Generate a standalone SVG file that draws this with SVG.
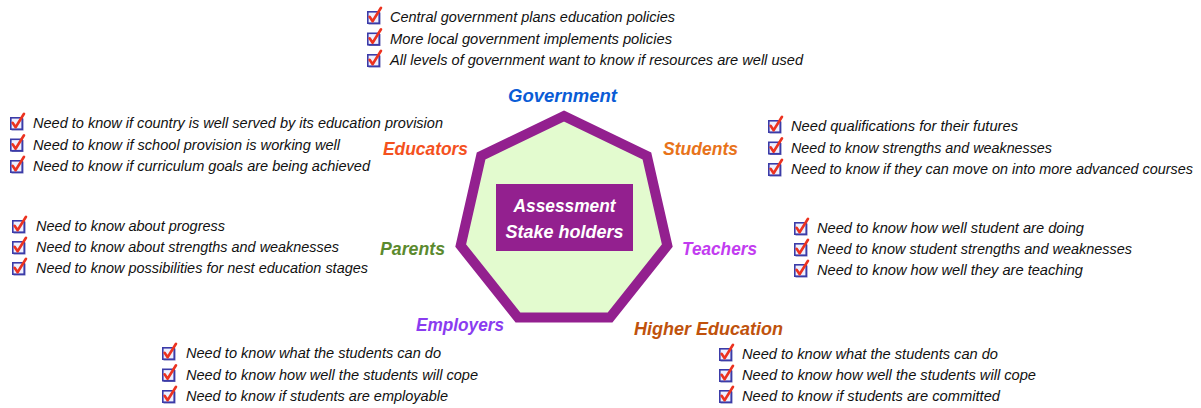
<svg xmlns="http://www.w3.org/2000/svg" xmlns:xlink="http://www.w3.org/1999/xlink" width="1201" height="408" viewBox="0 0 1201 408">
<style>
.it{font-family:"Liberation Sans",Arial,sans-serif;font-style:italic;font-size:14.5px;fill:#111}
.lb{font-family:"Liberation Sans",Arial,sans-serif;font-style:italic;font-weight:bold;font-size:19px}
.ct{font-family:"Liberation Sans",Arial,sans-serif;font-style:italic;font-weight:bold;font-size:19px;fill:#fff;text-anchor:middle}
</style>
<defs>
<g id="ck">
<rect x="1.5" y="1.5" width="12" height="12" fill="#6a6ab8"/>
<rect x="0.8" y="0.8" width="11.4" height="11.4" fill="#eef0ff" stroke="#3b3ba8" stroke-width="1.6"/>
<path d="M2.6,5.8 L5.6,10.2 L14,-3.2" fill="none" stroke="#ec3320" stroke-width="2.6" stroke-linecap="round" stroke-linejoin="round"/>
</g>
</defs>
<rect width="1201" height="408" fill="#fff"/>

<g id="hub">
<polygon points="564,116 646.9,155.9 667.3,245.6 610,317.5 518,317.5 460.7,245.6 481.1,155.9" fill="#e3fbcf" stroke="#93208f" stroke-width="10" stroke-linejoin="miter"/>
<rect x="496" y="184" width="137" height="67" fill="#93208f"/>
<text class="ct" x="564.5" y="212" textLength="102" lengthAdjust="spacingAndGlyphs">Assessment</text>
<text class="ct" x="564.5" y="238" textLength="118" lengthAdjust="spacingAndGlyphs">Stake holders</text>
</g>

<g id="government">
<text class="lb" x="508" y="102" fill="#0a5cd6" textLength="109" lengthAdjust="spacingAndGlyphs">Government</text>
<use xlink:href="#ck" x="367" y="11"/>
<text class="it" x="390" y="22" textLength="285" lengthAdjust="spacingAndGlyphs">Central government plans education policies</text>
<use xlink:href="#ck" x="367" y="32.5"/>
<text class="it" x="390" y="43.5" textLength="282" lengthAdjust="spacingAndGlyphs">More local government implements policies</text>
<use xlink:href="#ck" x="367" y="54"/>
<text class="it" x="390" y="65" textLength="413" lengthAdjust="spacingAndGlyphs">All levels of government want to know if resources are well used</text>
</g>

<g id="educators">
<text class="lb" x="383" y="155" fill="#f4511e" textLength="85" lengthAdjust="spacingAndGlyphs">Educators</text>
<use xlink:href="#ck" x="10" y="117"/>
<text class="it" x="33" y="128" textLength="410" lengthAdjust="spacingAndGlyphs">Need to know if country is well served by its education provision</text>
<use xlink:href="#ck" x="10" y="138.5"/>
<text class="it" x="33" y="149.5" textLength="307" lengthAdjust="spacingAndGlyphs">Need to know if school provision is working well</text>
<use xlink:href="#ck" x="10" y="160"/>
<text class="it" x="33" y="171" textLength="337" lengthAdjust="spacingAndGlyphs">Need to know if curriculum goals are being achieved</text>
</g>

<g id="students">
<text class="lb" x="663" y="155" fill="#e8731a" textLength="75" lengthAdjust="spacingAndGlyphs">Students</text>
<use xlink:href="#ck" x="768" y="120"/>
<text class="it" x="791" y="131" textLength="227" lengthAdjust="spacingAndGlyphs">Need qualifications for their futures</text>
<use xlink:href="#ck" x="768" y="141.5"/>
<text class="it" x="791" y="152.5" textLength="261" lengthAdjust="spacingAndGlyphs">Need to know strengths and weaknesses</text>
<use xlink:href="#ck" x="768" y="163"/>
<text class="it" x="791" y="174" textLength="402" lengthAdjust="spacingAndGlyphs">Need to know if they can move on into more advanced courses</text>
</g>

<g id="parents">
<text class="lb" x="380" y="255" fill="#5b8a2e" textLength="65" lengthAdjust="spacingAndGlyphs">Parents</text>
<use xlink:href="#ck" x="12" y="220"/>
<text class="it" x="36" y="231" textLength="189" lengthAdjust="spacingAndGlyphs">Need to know about progress</text>
<use xlink:href="#ck" x="12" y="241"/>
<text class="it" x="36" y="252" textLength="303" lengthAdjust="spacingAndGlyphs">Need to know about strengths and weaknesses</text>
<use xlink:href="#ck" x="12" y="262"/>
<text class="it" x="36" y="273" textLength="332" lengthAdjust="spacingAndGlyphs">Need to know possibilities for nest education stages</text>
</g>

<g id="teachers">
<text class="lb" x="682" y="255" fill="#c23cf0" textLength="75" lengthAdjust="spacingAndGlyphs">Teachers</text>
<use xlink:href="#ck" x="794" y="222"/>
<text class="it" x="817" y="233" textLength="267" lengthAdjust="spacingAndGlyphs">Need to know how well student are doing</text>
<use xlink:href="#ck" x="794" y="243"/>
<text class="it" x="817" y="254" textLength="315" lengthAdjust="spacingAndGlyphs">Need to know student strengths and weaknesses</text>
<use xlink:href="#ck" x="794" y="264"/>
<text class="it" x="817" y="275" textLength="266" lengthAdjust="spacingAndGlyphs">Need to know how well they are teaching</text>
</g>

<g id="employers">
<text class="lb" x="416" y="331" fill="#8a3cf0" textLength="88" lengthAdjust="spacingAndGlyphs">Employers</text>
<use xlink:href="#ck" x="162" y="347"/>
<text class="it" x="186" y="358" textLength="255" lengthAdjust="spacingAndGlyphs">Need to know what the students can do</text>
<use xlink:href="#ck" x="162" y="368.5"/>
<text class="it" x="186" y="379.5" textLength="292" lengthAdjust="spacingAndGlyphs">Need to know how well the students will cope</text>
<use xlink:href="#ck" x="162" y="390"/>
<text class="it" x="186" y="401" textLength="262" lengthAdjust="spacingAndGlyphs">Need to know if students are employable</text>
</g>

<g id="higher-education">
<text class="lb" x="634" y="335" fill="#c0520c" textLength="149" lengthAdjust="spacingAndGlyphs">Higher Education</text>
<use xlink:href="#ck" x="719" y="348"/>
<text class="it" x="742" y="359" textLength="256" lengthAdjust="spacingAndGlyphs">Need to know what the students can do</text>
<use xlink:href="#ck" x="719" y="369"/>
<text class="it" x="742" y="380" textLength="294" lengthAdjust="spacingAndGlyphs">Need to know how well the students will cope</text>
<use xlink:href="#ck" x="719" y="390"/>
<text class="it" x="742" y="401" textLength="258" lengthAdjust="spacingAndGlyphs">Need to know if students are committed</text>
</g>

<g id="connectors"></g>
</svg>
